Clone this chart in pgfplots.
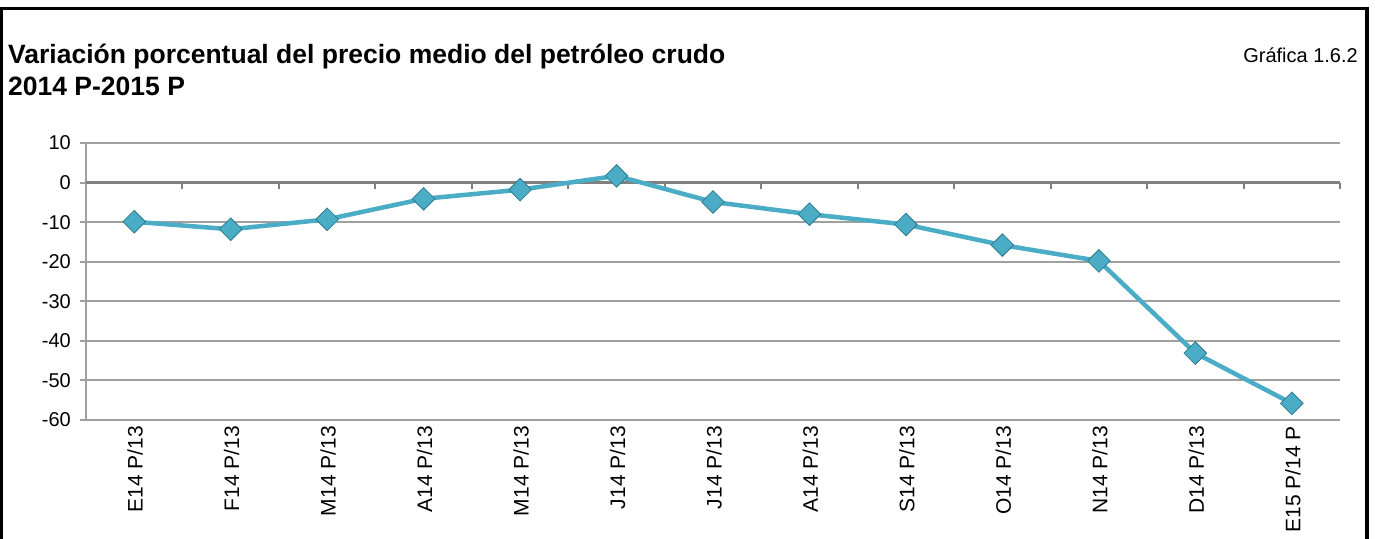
\documentclass[border=0pt]{standalone}
\usepackage{fontspec}
\setmainfont{Liberation Sans}
\usepackage{pgfplots}
\pgfplotsset{compat=1.18}
\definecolor{linec}{HTML}{4BACC6}
\definecolor{markedge}{HTML}{2F7C90}
\definecolor{gridc}{HTML}{A0A0A0}
\definecolor{axisc}{HTML}{808080}
\begin{document}
\begin{tikzpicture}[x=1bp,y=1bp]
\useasboundingbox (0,0) rectangle (1375,539);
\draw[line width=3.5bp] (1.5,-20) -- (1.5,530.5) -- (1367,530.5) -- (1367,-20);
\node[anchor=base west, font=\fontsize{26.5bp}{30bp}\selectfont\bfseries, inner sep=0pt] at (8,475) {Variación porcentual del precio medio del petróleo crudo};
\node[anchor=base west, font=\fontsize{26.5bp}{30bp}\selectfont\bfseries, inner sep=0pt] at (8,443) {2014 P-2015 P};
\node[anchor=base east, font=\fontsize{20bp}{24bp}\selectfont, inner sep=0pt] at (1358,476) {Gráfica 1.6.2};
\begin{axis}[
  at={(86bp,119bp)}, anchor=south west,
  width=1254bp, height=277bp, scale only axis,
  xmin=-0.5, xmax=12.5, ymin=-60, ymax=10,
  axis x line*=bottom, axis y line*=left,
  axis line style={-},
  x axis line style={draw=none},
  y axis line style={gridc, line width=2bp},
  xtick={0,...,12},
  xticklabels={E14 P/13, F14 P/13, M14 P/13, A14 P/13, M14 P/13, J14 P/13, J14 P/13, A14 P/13, S14 P/13, O14 P/13, N14 P/13, D14 P/13, E15 P/14 P},
  ytick={-60,-50,...,10},
  yticklabels={-60,-50,-40,-30,-20,-10,0,10},
  tick align=outside,
  major tick length=6bp,
  xtick style={draw=none},
  ytick style={gridc, line width=2bp},
  ymajorgrids,
  major grid style={gridc, line width=2bp},
  yticklabel style={font=\fontsize{20bp}{24bp}\selectfont, inner sep=0pt, xshift=-9bp},
  xticklabel style={font=\fontsize{21bp}{25bp}\selectfont, rotate=90, anchor=east, inner sep=0pt, yshift=-1bp},
  clip=false,
]
\draw[axisc, line width=2.5bp] (axis cs:-0.5,0) -- (axis cs:12.5,0);
\pgfplotsinvokeforeach{0.5,1.5,...,12.5}{
  \draw[axisc, line width=2bp] (axis cs:#1,0) -- ([yshift=-6bp]axis cs:#1,0);
}
\addplot[linec, line width=4.5bp, mark=square*, mark size=8bp,
  mark options={rotate=45, fill=linec, draw=markedge, line width=0.8bp}]
  coordinates {(0,-9.9)(1,-11.8)(2,-9.3)(3,-4.1)(4,-1.8)(5,1.7)(6,-4.9)(7,-8.0)(8,-10.6)(9,-15.8)(10,-19.8)(11,-43.1)(12,-55.8)};
\end{axis}
\end{tikzpicture}
\end{document}
